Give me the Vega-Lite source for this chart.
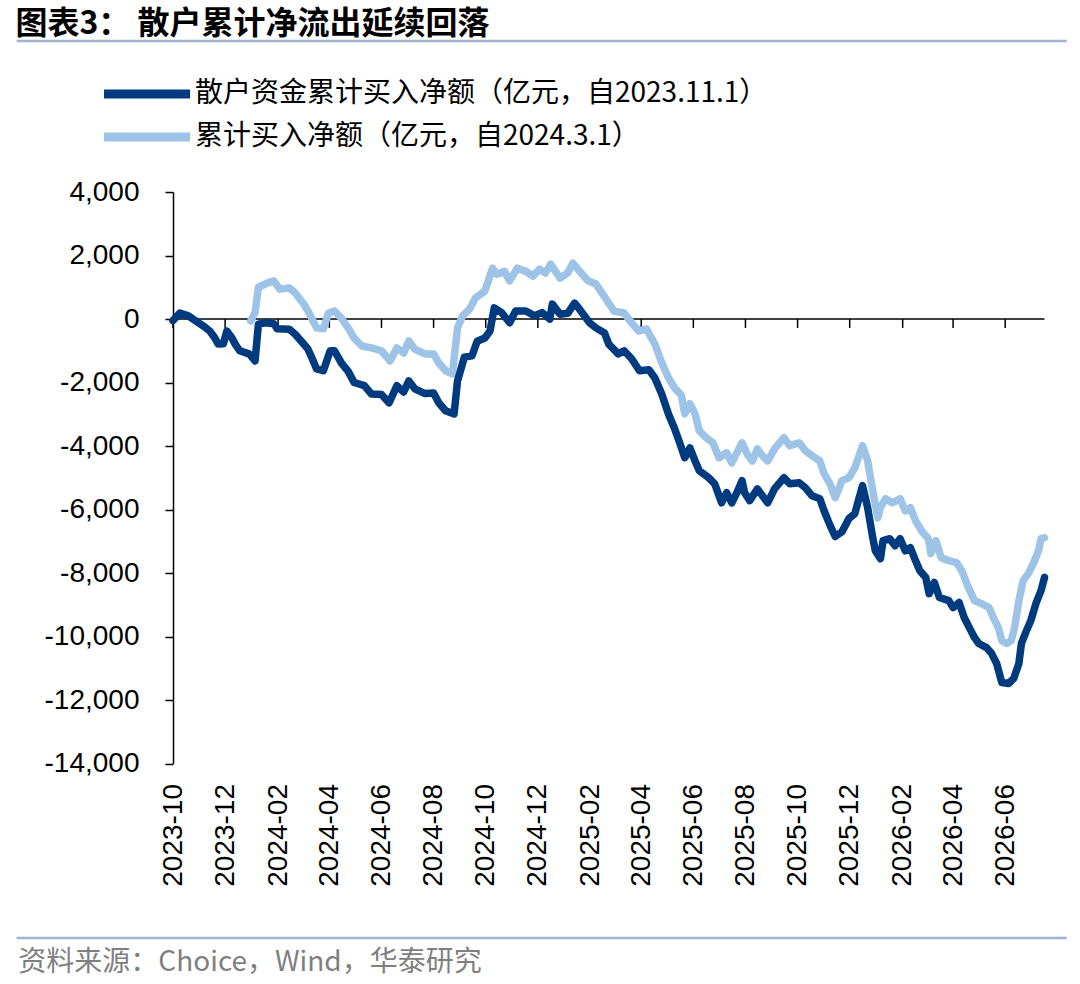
{
  "$schema": "https://vega.github.io/schema/vega-lite/v6.json",
  "padding": {"left": 15, "right": 15, "top": 7, "bottom": 4},
  "autosize": {"type": "pad"},
  "background": "white",
  "width": 871.5,
  "height": 571.5,
  "title": {
    "text": "图表3：  散户累计净流出延续回落",
    "anchor": "start",
    "frame": "bounds",
    "font": "Noto Sans CJK SC",
    "fontSize": 32,
    "fontWeight": "bold",
    "color": "#000000",
    "offset": -1
  },
  "datasets": {
    "retail": [
      {"date": "2023-10-01", "value": -50},
      {"date": "2023-10-09", "value": 190},
      {"date": "2023-10-19", "value": 100},
      {"date": "2023-10-31", "value": -120},
      {"date": "2023-11-07", "value": -250},
      {"date": "2023-11-13", "value": -380},
      {"date": "2023-11-19", "value": -600},
      {"date": "2023-11-23", "value": -790},
      {"date": "2023-11-29", "value": -780},
      {"date": "2023-12-03", "value": -380},
      {"date": "2023-12-09", "value": -600},
      {"date": "2023-12-13", "value": -800},
      {"date": "2023-12-18", "value": -1000},
      {"date": "2023-12-29", "value": -1100},
      {"date": "2024-01-05", "value": -1320},
      {"date": "2024-01-09", "value": -160},
      {"date": "2024-01-17", "value": -120},
      {"date": "2024-01-27", "value": -150},
      {"date": "2024-01-31", "value": -310},
      {"date": "2024-02-14", "value": -320},
      {"date": "2024-02-21", "value": -480},
      {"date": "2024-03-02", "value": -790},
      {"date": "2024-03-07", "value": -950},
      {"date": "2024-03-12", "value": -1250},
      {"date": "2024-03-17", "value": -1570},
      {"date": "2024-03-25", "value": -1630},
      {"date": "2024-04-02", "value": -1000},
      {"date": "2024-04-07", "value": -1000},
      {"date": "2024-04-15", "value": -1380},
      {"date": "2024-04-23", "value": -1650},
      {"date": "2024-04-30", "value": -2000},
      {"date": "2024-05-12", "value": -2100},
      {"date": "2024-05-20", "value": -2360},
      {"date": "2024-06-01", "value": -2380},
      {"date": "2024-06-10", "value": -2640},
      {"date": "2024-06-19", "value": -2100},
      {"date": "2024-06-27", "value": -2300},
      {"date": "2024-07-03", "value": -1950},
      {"date": "2024-07-10", "value": -2200},
      {"date": "2024-07-22", "value": -2350},
      {"date": "2024-08-01", "value": -2330},
      {"date": "2024-08-07", "value": -2640},
      {"date": "2024-08-15", "value": -2890},
      {"date": "2024-08-25", "value": -2990},
      {"date": "2024-08-29", "value": -1950},
      {"date": "2024-09-06", "value": -1200},
      {"date": "2024-09-15", "value": -1160},
      {"date": "2024-09-21", "value": -700},
      {"date": "2024-09-30", "value": -600},
      {"date": "2024-10-06", "value": -380},
      {"date": "2024-10-11", "value": 350},
      {"date": "2024-10-20", "value": 190},
      {"date": "2024-10-29", "value": -120},
      {"date": "2024-11-05", "value": 250},
      {"date": "2024-11-17", "value": 250},
      {"date": "2024-11-27", "value": 100},
      {"date": "2024-12-06", "value": 200},
      {"date": "2024-12-15", "value": 0},
      {"date": "2024-12-18", "value": 470},
      {"date": "2024-12-27", "value": 150},
      {"date": "2025-01-05", "value": 180},
      {"date": "2025-01-13", "value": 500},
      {"date": "2025-01-19", "value": 300},
      {"date": "2025-01-31", "value": -130},
      {"date": "2025-02-07", "value": -280},
      {"date": "2025-02-17", "value": -440},
      {"date": "2025-02-22", "value": -790},
      {"date": "2025-03-05", "value": -1100},
      {"date": "2025-03-12", "value": -1000},
      {"date": "2025-03-21", "value": -1260},
      {"date": "2025-03-30", "value": -1630},
      {"date": "2025-04-10", "value": -1600},
      {"date": "2025-04-17", "value": -1860},
      {"date": "2025-04-25", "value": -2360},
      {"date": "2025-05-03", "value": -3000},
      {"date": "2025-05-10", "value": -3450},
      {"date": "2025-05-16", "value": -3900},
      {"date": "2025-05-22", "value": -4370},
      {"date": "2025-05-28", "value": -4060},
      {"date": "2025-06-03", "value": -4470},
      {"date": "2025-06-08", "value": -4780},
      {"date": "2025-06-19", "value": -5000},
      {"date": "2025-06-26", "value": -5190},
      {"date": "2025-07-04", "value": -5790},
      {"date": "2025-07-10", "value": -5470},
      {"date": "2025-07-16", "value": -5790},
      {"date": "2025-07-22", "value": -5470},
      {"date": "2025-07-28", "value": -5090},
      {"date": "2025-07-31", "value": -5470},
      {"date": "2025-08-06", "value": -5720},
      {"date": "2025-08-15", "value": -5350},
      {"date": "2025-08-21", "value": -5570},
      {"date": "2025-08-27", "value": -5790},
      {"date": "2025-09-04", "value": -5350},
      {"date": "2025-09-15", "value": -5000},
      {"date": "2025-09-22", "value": -5190},
      {"date": "2025-10-03", "value": -5160},
      {"date": "2025-10-10", "value": -5310},
      {"date": "2025-10-18", "value": -5570},
      {"date": "2025-10-27", "value": -5660},
      {"date": "2025-11-01", "value": -6040},
      {"date": "2025-11-08", "value": -6500},
      {"date": "2025-11-14", "value": -6850},
      {"date": "2025-11-22", "value": -6700},
      {"date": "2025-11-30", "value": -6290},
      {"date": "2025-12-07", "value": -6130},
      {"date": "2025-12-16", "value": -5250},
      {"date": "2025-12-22", "value": -5940},
      {"date": "2025-12-28", "value": -6890},
      {"date": "2025-12-31", "value": -7300},
      {"date": "2026-01-06", "value": -7550},
      {"date": "2026-01-09", "value": -6980},
      {"date": "2026-01-17", "value": -6920},
      {"date": "2026-01-23", "value": -7140},
      {"date": "2026-01-29", "value": -6920},
      {"date": "2026-02-04", "value": -7300},
      {"date": "2026-02-10", "value": -7200},
      {"date": "2026-02-16", "value": -7610},
      {"date": "2026-02-21", "value": -7920},
      {"date": "2026-02-28", "value": -8140},
      {"date": "2026-03-04", "value": -8650},
      {"date": "2026-03-10", "value": -8300},
      {"date": "2026-03-16", "value": -8770},
      {"date": "2026-03-27", "value": -8870},
      {"date": "2026-04-01", "value": -9090},
      {"date": "2026-04-08", "value": -8930},
      {"date": "2026-04-14", "value": -9400},
      {"date": "2026-04-20", "value": -9720},
      {"date": "2026-04-26", "value": -10030},
      {"date": "2026-05-01", "value": -10220},
      {"date": "2026-05-10", "value": -10350},
      {"date": "2026-05-16", "value": -10530},
      {"date": "2026-05-22", "value": -10850},
      {"date": "2026-05-28", "value": -11450},
      {"date": "2026-06-05", "value": -11480},
      {"date": "2026-06-11", "value": -11320},
      {"date": "2026-06-17", "value": -10850},
      {"date": "2026-06-20", "value": -10220},
      {"date": "2026-06-26", "value": -9810},
      {"date": "2026-07-01", "value": -9500},
      {"date": "2026-07-07", "value": -8960},
      {"date": "2026-07-13", "value": -8550},
      {"date": "2026-07-17", "value": -8140}
    ],
    "total": [
      {"date": "2023-12-31", "value": -60},
      {"date": "2024-01-05", "value": 200},
      {"date": "2024-01-09", "value": 1000},
      {"date": "2024-01-19", "value": 1130},
      {"date": "2024-01-27", "value": 1200},
      {"date": "2024-02-03", "value": 940},
      {"date": "2024-02-14", "value": 980},
      {"date": "2024-02-21", "value": 820},
      {"date": "2024-03-02", "value": 470},
      {"date": "2024-03-07", "value": 250},
      {"date": "2024-03-17", "value": -280},
      {"date": "2024-03-25", "value": -310},
      {"date": "2024-03-31", "value": 190},
      {"date": "2024-04-07", "value": 250},
      {"date": "2024-04-15", "value": 30},
      {"date": "2024-04-23", "value": -280},
      {"date": "2024-04-30", "value": -600},
      {"date": "2024-05-09", "value": -850},
      {"date": "2024-05-20", "value": -910},
      {"date": "2024-06-01", "value": -1000},
      {"date": "2024-06-11", "value": -1320},
      {"date": "2024-06-19", "value": -910},
      {"date": "2024-06-27", "value": -1070},
      {"date": "2024-07-03", "value": -690},
      {"date": "2024-07-10", "value": -950},
      {"date": "2024-07-22", "value": -1100},
      {"date": "2024-08-01", "value": -1100},
      {"date": "2024-08-07", "value": -1380},
      {"date": "2024-08-15", "value": -1630},
      {"date": "2024-08-23", "value": -1730},
      {"date": "2024-08-29", "value": -280},
      {"date": "2024-09-04", "value": 100},
      {"date": "2024-09-12", "value": 310},
      {"date": "2024-09-19", "value": 660},
      {"date": "2024-09-30", "value": 880},
      {"date": "2024-10-09", "value": 1600},
      {"date": "2024-10-14", "value": 1410},
      {"date": "2024-10-23", "value": 1500},
      {"date": "2024-10-29", "value": 1200},
      {"date": "2024-11-07", "value": 1600},
      {"date": "2024-11-17", "value": 1500},
      {"date": "2024-11-25", "value": 1350},
      {"date": "2024-12-03", "value": 1570},
      {"date": "2024-12-10", "value": 1450},
      {"date": "2024-12-16", "value": 1730},
      {"date": "2024-12-27", "value": 1290},
      {"date": "2025-01-05", "value": 1450},
      {"date": "2025-01-11", "value": 1760},
      {"date": "2025-01-19", "value": 1500},
      {"date": "2025-01-29", "value": 1200},
      {"date": "2025-02-07", "value": 1100},
      {"date": "2025-02-14", "value": 820},
      {"date": "2025-02-22", "value": 500},
      {"date": "2025-02-28", "value": 250},
      {"date": "2025-03-12", "value": 190},
      {"date": "2025-03-21", "value": -130},
      {"date": "2025-03-29", "value": -380},
      {"date": "2025-04-07", "value": -310},
      {"date": "2025-04-17", "value": -790},
      {"date": "2025-04-25", "value": -1380},
      {"date": "2025-05-03", "value": -1860},
      {"date": "2025-05-10", "value": -2170},
      {"date": "2025-05-18", "value": -2400},
      {"date": "2025-05-22", "value": -2990},
      {"date": "2025-05-28", "value": -2670},
      {"date": "2025-06-03", "value": -2990},
      {"date": "2025-06-08", "value": -3520},
      {"date": "2025-06-16", "value": -3740},
      {"date": "2025-06-24", "value": -3900},
      {"date": "2025-07-01", "value": -4370},
      {"date": "2025-07-10", "value": -4210},
      {"date": "2025-07-16", "value": -4530},
      {"date": "2025-07-22", "value": -4210},
      {"date": "2025-07-28", "value": -3900},
      {"date": "2025-08-03", "value": -4250},
      {"date": "2025-08-09", "value": -4470},
      {"date": "2025-08-15", "value": -4090},
      {"date": "2025-08-21", "value": -4310},
      {"date": "2025-08-27", "value": -4470},
      {"date": "2025-09-04", "value": -4090},
      {"date": "2025-09-15", "value": -3740},
      {"date": "2025-09-22", "value": -3990},
      {"date": "2025-10-03", "value": -3900},
      {"date": "2025-10-10", "value": -4150},
      {"date": "2025-10-18", "value": -4310},
      {"date": "2025-10-27", "value": -4470},
      {"date": "2025-11-01", "value": -4870},
      {"date": "2025-11-08", "value": -5190},
      {"date": "2025-11-14", "value": -5630},
      {"date": "2025-11-22", "value": -5090},
      {"date": "2025-11-30", "value": -5000},
      {"date": "2025-12-07", "value": -4690},
      {"date": "2025-12-16", "value": -3990},
      {"date": "2025-12-22", "value": -4470},
      {"date": "2025-12-28", "value": -5410},
      {"date": "2026-01-03", "value": -6260},
      {"date": "2026-01-06", "value": -5940},
      {"date": "2026-01-12", "value": -5660},
      {"date": "2026-01-20", "value": -5790},
      {"date": "2026-01-29", "value": -5660},
      {"date": "2026-02-04", "value": -6040},
      {"date": "2026-02-10", "value": -5940},
      {"date": "2026-02-16", "value": -6350},
      {"date": "2026-02-23", "value": -6670},
      {"date": "2026-03-03", "value": -6920},
      {"date": "2026-03-06", "value": -7390},
      {"date": "2026-03-12", "value": -6980},
      {"date": "2026-03-18", "value": -7520},
      {"date": "2026-03-27", "value": -7610},
      {"date": "2026-04-05", "value": -7670},
      {"date": "2026-04-11", "value": -7920},
      {"date": "2026-04-19", "value": -8460},
      {"date": "2026-04-26", "value": -8870},
      {"date": "2026-05-04", "value": -8960},
      {"date": "2026-05-13", "value": -9090},
      {"date": "2026-05-18", "value": -9400},
      {"date": "2026-05-24", "value": -9720},
      {"date": "2026-05-28", "value": -10130},
      {"date": "2026-06-03", "value": -10220},
      {"date": "2026-06-08", "value": -10130},
      {"date": "2026-06-12", "value": -9720},
      {"date": "2026-06-17", "value": -8870},
      {"date": "2026-06-22", "value": -8240},
      {"date": "2026-06-28", "value": -8020},
      {"date": "2026-07-04", "value": -7700},
      {"date": "2026-07-10", "value": -7300},
      {"date": "2026-07-13", "value": -6920},
      {"date": "2026-07-17", "value": -6890}
    ],
    "ticks": [
      {"date": "2023-10-01"}, {"date": "2023-12-01"}, {"date": "2024-02-01"},
      {"date": "2024-04-01"}, {"date": "2024-06-01"}, {"date": "2024-08-01"},
      {"date": "2024-10-01"}, {"date": "2024-12-01"}, {"date": "2025-02-01"},
      {"date": "2025-04-01"}, {"date": "2025-06-01"}, {"date": "2025-08-01"},
      {"date": "2025-10-01"}, {"date": "2025-12-01"}, {"date": "2026-02-01"},
      {"date": "2026-04-01"}, {"date": "2026-06-01"}
    ]
  },
  "layer": [
    {
      "data": {"values": [{}]},
      "mark": {"type": "rule", "color": "#9FB4CF", "strokeWidth": 2.5, "clip": false},
      "encoding": {
        "x": {"datum": {"year": 2023, "month": 4, "date": 1, "utc": true}, "type": "temporal"},
        "x2": {"datum": {"year": 2026, "month": 8, "date": 12, "utc": true}},
        "y": {"datum": 8756, "type": "quantitative"}
      }
    },
    {
      "data": {"values": [{}]},
      "mark": {"type": "rule", "color": "#9FB4CF", "strokeWidth": 2.5, "clip": false},
      "encoding": {
        "x": {"datum": {"year": 2023, "month": 4, "date": 1, "utc": true}, "type": "temporal"},
        "x2": {"datum": {"year": 2026, "month": 8, "date": 12, "utc": true}},
        "y": {"datum": -19496, "type": "quantitative"}
      }
    },
    {
      "data": {"values": [{}]},
      "mark": {
        "type": "text",
        "text": "资料来源：Choice，Wind，华泰研究",
        "align": "left",
        "baseline": "middle",
        "font": "Noto Sans CJK SC",
        "fontSize": 28,
        "color": "#7F7F7F",
        "clip": false
      },
      "encoding": {
        "x": {"datum": {"year": 2023, "month": 4, "date": 3, "utc": true}, "type": "temporal"},
        "y": {"datum": -20283, "type": "quantitative"}
      }
    },
    {
      "data": {"values": [{}]},
      "mark": {"type": "rule", "color": "#000000", "strokeWidth": 1.5},
      "encoding": {"y": {"datum": 0, "type": "quantitative"}}
    },
    {
      "data": {"name": "ticks"},
      "mark": {"type": "rule", "color": "#000000", "strokeWidth": 1.5},
      "encoding": {
        "x": {"field": "date", "type": "temporal"},
        "y": {"datum": 0, "type": "quantitative"},
        "y2": {"datum": -280}
      }
    },
    {
      "data": {"name": "total"},
      "mark": {"type": "line", "strokeWidth": 7.5, "strokeCap": "round", "strokeJoin": "round"},
      "encoding": {
        "x": {
          "field": "date",
          "type": "temporal",
          "scale": {
            "type": "utc",
            "domain": [
              {"year": 2023, "month": 10, "date": 1, "utc": true},
              {"year": 2026, "month": 7, "date": 17, "utc": true}
            ]
          },
          "axis": {
            "title": null,
            "orient": "bottom",
            "values": [
              {"year": 2023, "month": 10, "date": 1, "utc": true},
              {"year": 2023, "month": 12, "date": 1, "utc": true},
              {"year": 2024, "month": 2, "date": 1, "utc": true},
              {"year": 2024, "month": 4, "date": 1, "utc": true},
              {"year": 2024, "month": 6, "date": 1, "utc": true},
              {"year": 2024, "month": 8, "date": 1, "utc": true},
              {"year": 2024, "month": 10, "date": 1, "utc": true},
              {"year": 2024, "month": 12, "date": 1, "utc": true},
              {"year": 2025, "month": 2, "date": 1, "utc": true},
              {"year": 2025, "month": 4, "date": 1, "utc": true},
              {"year": 2025, "month": 6, "date": 1, "utc": true},
              {"year": 2025, "month": 8, "date": 1, "utc": true},
              {"year": 2025, "month": 10, "date": 1, "utc": true},
              {"year": 2025, "month": 12, "date": 1, "utc": true},
              {"year": 2026, "month": 2, "date": 1, "utc": true},
              {"year": 2026, "month": 4, "date": 1, "utc": true},
              {"year": 2026, "month": 6, "date": 1, "utc": true}
            ],
            "format": "%Y-%m",
            "labelAngle": -90,
            "labelFlush": false,
            "labelOverlap": false,
            "labelBound": false,
            "domain": false,
            "ticks": false,
            "grid": false,
            "labelFont": "Liberation Sans",
            "labelFontSize": 28,
            "labelColor": "#000000",
            "labelPadding": 20
          }
        },
        "y": {
          "field": "value",
          "type": "quantitative",
          "scale": {"domain": [-14000, 4000], "nice": false, "zero": false},
          "axis": {
            "title": null,
            "values": [-14000, -12000, -10000, -8000, -6000, -4000, -2000, 0, 2000, 4000],
            "labelExpr": "(datum.value < 0 ? '-' : '') + format(abs(datum.value), ',')",
            "grid": false,
            "domain": true,
            "domainColor": "#000000",
            "domainWidth": 1.5,
            "ticks": true,
            "tickColor": "#000000",
            "tickWidth": 1.5,
            "tickSize": 8,
            "labelFont": "Liberation Sans",
            "labelFontSize": 28,
            "labelColor": "#000000",
            "labelPadding": 26
          }
        },
        "color": {
          "datum": "累计买入净额（亿元，自2024.3.1）",
          "type": "nominal",
          "scale": {
            "domain": ["散户资金累计买入净额（亿元，自2023.11.1）", "累计买入净额（亿元，自2024.3.1）"],
            "range": ["#003A7F", "#9DC3E6"]
          },
          "legend": {
            "title": null,
            "orient": "none",
            "legendX": -74,
            "legendY": -114,
            "direction": "vertical",
            "padding": 0,
            "symbolType": "stroke",
            "symbolSize": 7400,
            "symbolStrokeWidth": 9,
            "clipHeight": 32,
            "labelFont": "Noto Sans CJK SC",
            "labelFontSize": 28,
            "labelColor": "#000000",
            "labelLimit": 0,
            "labelOffset": 0,
            "rowPadding": 11
          }
        }
      }
    },
    {
      "data": {"name": "retail"},
      "mark": {"type": "line", "strokeWidth": 7.5, "strokeCap": "round", "strokeJoin": "round"},
      "encoding": {
        "x": {"field": "date", "type": "temporal"},
        "y": {"field": "value", "type": "quantitative"},
        "color": {"datum": "散户资金累计买入净额（亿元，自2023.11.1）", "type": "nominal"}
      }
    }
  ],
  "config": {
    "view": {"stroke": null},
    "font": "Liberation Sans"
  }
}
